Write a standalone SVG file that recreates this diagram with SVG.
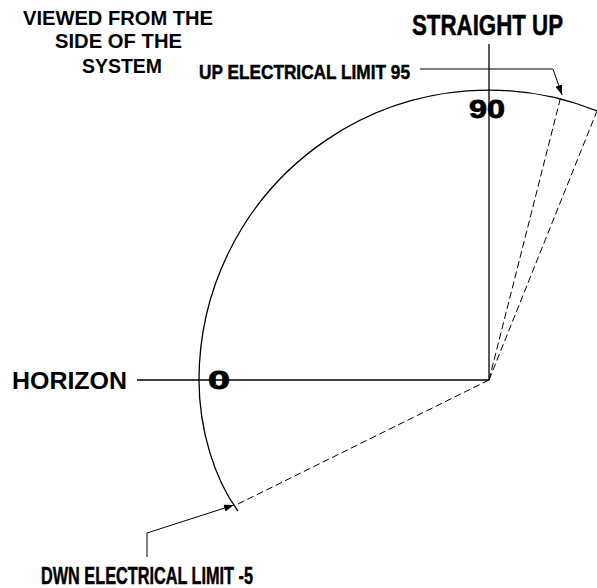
<svg xmlns="http://www.w3.org/2000/svg" width="597" height="588" viewBox="0 0 597 588">
<style>
.t{font-family:"Liberation Sans",Arial,sans-serif;font-weight:bold;fill:#000}
.n{font-family:"Liberation Sans Narrow","Liberation Sans",Arial,sans-serif;font-weight:bold;fill:#000;stroke:#000;stroke-width:0.5}
.h{stroke:#000;stroke-width:0.8}
.s{fill:none;stroke:#000;stroke-width:1.3}
.d{fill:none;stroke:#000;stroke-width:1;stroke-dasharray:7 3.5}
.l{fill:none;stroke:#000;stroke-width:1}
</style>
<defs>
<marker id="ah" markerUnits="userSpaceOnUse" markerWidth="11" markerHeight="8" refX="10" refY="3.5" orient="auto">
<path d="M0,0 L10,3.5 L0,7 Z" fill="#000"/>
</marker>
</defs>
<rect width="597" height="588" fill="#fff"/>
<g id="connectors">
<path class="s" d="M489,44 L489,380"/>
<path class="s" d="M137,380 L489,380"/>
<path class="s" d="M597,111 A290,290 0 0 0 199,380 C199,430 215,480 238,511"/>
<path class="d" d="M489,380 L236,505"/>
<path class="d" d="M489,380 L561,96"/>
<path class="d" d="M489,380 L597,111"/>
<path class="l" d="M420,69 L553,69 L562,95" marker-end="url(#ah)"/>
<path class="l" d="M147,557 L147,533 L234,505" marker-end="url(#ah)"/>
</g>
<g id="title">
<text class="t" x="23" y="25" font-size="20.5" textLength="190" lengthAdjust="spacingAndGlyphs">VIEWED FROM THE</text>
<text class="t" x="55" y="48" font-size="20.5" textLength="127" lengthAdjust="spacingAndGlyphs">SIDE OF THE</text>
<text class="t" x="82" y="73" font-size="20.5" textLength="80" lengthAdjust="spacingAndGlyphs">SYSTEM</text>
</g>
<g id="straight-up">
<text class="n" x="412" y="35" font-size="29" textLength="151" lengthAdjust="spacingAndGlyphs">STRAIGHT UP</text>
</g>
<g id="up-limit">
<text class="n" x="199" y="79" font-size="21" textLength="211" lengthAdjust="spacingAndGlyphs">UP ELECTRICAL LIMIT 95</text>
</g>
<g id="label-90">
<text class="t h" x="469" y="118" font-size="25" textLength="36" lengthAdjust="spacingAndGlyphs">90</text>
</g>
<g id="horizon">
<text class="t" x="12" y="389" font-size="23" textLength="115" lengthAdjust="spacingAndGlyphs">HORIZON</text>
</g>
<g id="label-0">
<text class="t h" x="208" y="389" font-size="25" textLength="22" lengthAdjust="spacingAndGlyphs">0</text>
</g>
<g id="dwn-limit">
<text class="n" x="41" y="584" font-size="24" textLength="212" lengthAdjust="spacingAndGlyphs">DWN ELECTRICAL LIMIT -5</text>
</g>
</svg>
